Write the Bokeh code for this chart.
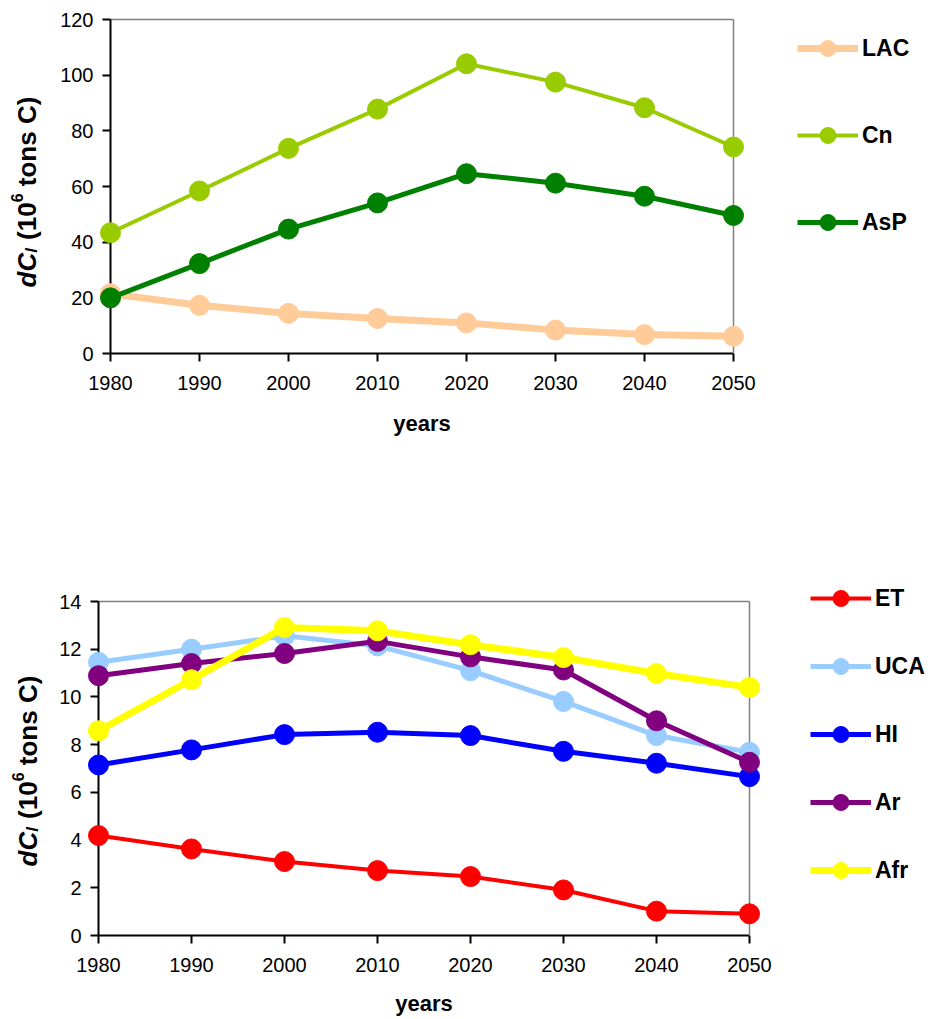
import math
from bokeh.plotting import figure
from bokeh.layouts import column
from bokeh.models import (Range1d, FixedTicker, Legend, LegendItem, Label, LinearAxis)
from bokeh.embed import file_html
from bokeh.resources import INLINE

# ---------------- data ----------------
years = [1980, 1990, 2000, 2010, 2020, 2030, 2040, 2050]

# top panel
lac = [21.5, 17.3, 14.4, 12.6, 11.0, 8.4, 6.8, 6.2]
cn = [43.4, 58.4, 73.7, 87.8, 104.1, 97.5, 88.3, 74.2]
asp = [20.0, 32.3, 44.7, 54.1, 64.6, 61.2, 56.5, 49.6]
top_yticks = [0, 20, 40, 60, 80, 100, 120]

# bottom panel
et = [4.19, 3.63, 3.10, 2.72, 2.47, 1.91, 1.02, 0.91]
uca = [11.45, 12.0, 12.56, 12.14, 11.1, 9.81, 8.38, 7.68]
hi = [7.15, 7.78, 8.42, 8.52, 8.38, 7.72, 7.22, 6.66]
ar = [10.89, 11.4, 11.82, 12.33, 11.68, 11.13, 9.0, 7.26]
afr = [8.58, 10.72, 12.91, 12.77, 12.19, 11.65, 10.98, 10.4]
bot_yticks = [0, 2, 4, 6, 8, 10, 12, 14]

FONT = "Liberation Sans"


class Chart:
    """Figure whose frame fills the canvas; the plot box is placed by pixel edges."""

    def __init__(self, W, H, left, right, top, bottom, ymax, yticks, label_standoff):
        self.W, self.H = W, H
        kx = 70.0 / (right - left)
        ky = ymax / (bottom - top)
        x0 = 1980 - left * kx
        x1 = 2050 + (W - right) * kx
        y0 = -(H - bottom) * ky
        y1 = ymax + top * ky
        self.x0, self.x1, self.y0, self.y1 = x0, x1, y0, y1
        p = figure(width=W, height=H, output_backend="svg", toolbar_location=None,
                   tools="", title=None, x_range=Range1d(x0, x1), y_range=Range1d(y0, y1),
                   min_border_left=0, min_border_right=0, min_border_top=0,
                   min_border_bottom=0)
        p.grid.visible = False
        p.outline_line_color = None
        p.background_fill_color = "white"
        p.border_fill_color = "white"
        xa, ya = p.xaxis[0], p.yaxis[0]
        xa.fixed_location = 0
        xa.bounds = (1980, 2050)
        ya.fixed_location = 1980
        ya.bounds = (0, ymax)
        for ax in (xa, ya):
            ax.axis_line_color = "black"
            ax.axis_line_width = 2
            ax.major_tick_line_color = "black"
            ax.major_tick_line_width = 2
            ax.major_tick_out = 8
            ax.major_tick_in = 0
            ax.minor_tick_line_color = None
            ax.major_label_text_font = FONT
            ax.major_label_text_font_size = "20px"
            ax.major_label_text_color = "black"
        xa.ticker = FixedTicker(ticks=years)
        ya.ticker = FixedTicker(ticks=yticks)
        xa.major_label_standoff = 14
        ya.major_label_standoff = 9
        xa.axis_label = "years"
        xa.axis_label_text_font = FONT
        xa.axis_label_text_font_style = "bold"
        xa.axis_label_text_font_size = "22px"
        xa.axis_label_text_color = "black"
        xa.axis_label_standoff = label_standoff
        # thin grey top / right border of the plot box
        top_ax = LinearAxis(fixed_location=ymax, bounds=(1980, 2050),
                            ticker=FixedTicker(ticks=[]), axis_line_color="#808080",
                            axis_line_width=1.5, major_tick_line_color=None,
                            minor_tick_line_color=None, major_label_text_alpha=0)
        right_ax = LinearAxis(fixed_location=2050, bounds=(0, ymax),
                              ticker=FixedTicker(ticks=[]), axis_line_color="#808080",
                              axis_line_width=1.5, major_tick_line_color=None,
                              minor_tick_line_color=None, major_label_text_alpha=0)
        p.add_layout(top_ax, "above")
        p.add_layout(right_ax, "right")
        self.p = p

    def px(self, x, y):
        """canvas pixel (from top-left) -> data coordinates"""
        dx = self.x0 + x * (self.x1 - self.x0) / self.W
        dy = self.y0 + (self.H - y) * (self.y1 - self.y0) / self.H
        return dx, dy

    def ylabel(self, bx, by):
        # composite rotated label: dC_l (10^6 tons C); bx = anchor x, by = start y
        fs = 26
        sp = 278 * fs / 1000.0  # width of a space
        # (text, size, style, sideways shift, advance width per 1000 em, gap before)
        segs = [
            ("dC", fs, "bold italic", 0, 611 + 722, 0),
            ("l", 17, "bold italic", 5, 278, 0),
            ("(10", fs, "bold", 0, 333 + 556 + 556, sp + 1),
            ("6", 16, "bold", -10, 556, 0),
            ("tons C)", fs, "bold", 0, 333 + 611 + 611 + 556 + 278 + 722 + 333, sp),
        ]
        off = 0.0
        for txt, size, style, dx, w, gap in segs:
            off += gap
            lx, ly = self.px(bx + dx, by - off)
            self.p.add_layout(Label(x=lx, y=ly, text=txt, angle=math.pi / 2,
                                    text_align="left", text_baseline="alphabetic",
                                    text_font=FONT, text_font_size=f"{size}px",
                                    text_font_style=style, text_color="black"))
            off += w * size / 1000.0

    def series(self, series, spacing, loc):
        items = []
        for name, vals, color, lw in series:
            lr = self.p.line(years, vals, line_color=color, line_width=lw, level="overlay")
            sr = self.p.scatter(years, vals, size=20, fill_color=color, line_color=color,
                                level="overlay")
            items.append(LegendItem(label=name, renderers=[lr, sr]))
        lg = Legend(items=items, location=loc, spacing=spacing, padding=5, margin=0,
                    glyph_width=61, glyph_height=40, label_height=40, label_standoff=4,
                    label_text_font=FONT, label_text_font_style="bold",
                    label_text_font_size="23px", label_text_color="black",
                    border_line_alpha=0, background_fill_alpha=0)
        self.p.add_layout(lg, "center")


# ---------------- top chart ----------------
c1 = Chart(930, 448, 110, 733, 19, 353, 120, top_yticks, 18)
c1.series([
    ("LAC", lac, "#FFCC99", 7),
    ("Cn", cn, "#99CC00", 4),
    ("AsP", asp, "#008000", 5),
], 47, (792, 448 - 23 - 224))
c1.ylabel(26, 287)

# ---------------- bottom chart ----------------
c2 = Chart(930, 568, 98, 749, 153, 487, 14, bot_yticks, 16)
c2.series([
    ("ET", et, "#FF0000", 4),
    ("UCA", uca, "#99CCFF", 5),
    ("HI", hi, "#0000FF", 5),
    ("Ar", ar, "#800080", 5),
    ("Afr", afr, "#FFFF00", 7),
], 28, (805, 568 - 125 - 322))
c2.ylabel(27, 866 - 448)

layout = column(c1.p, c2.p, spacing=0)
open("out.html", "w").write(file_html(layout, INLINE))
